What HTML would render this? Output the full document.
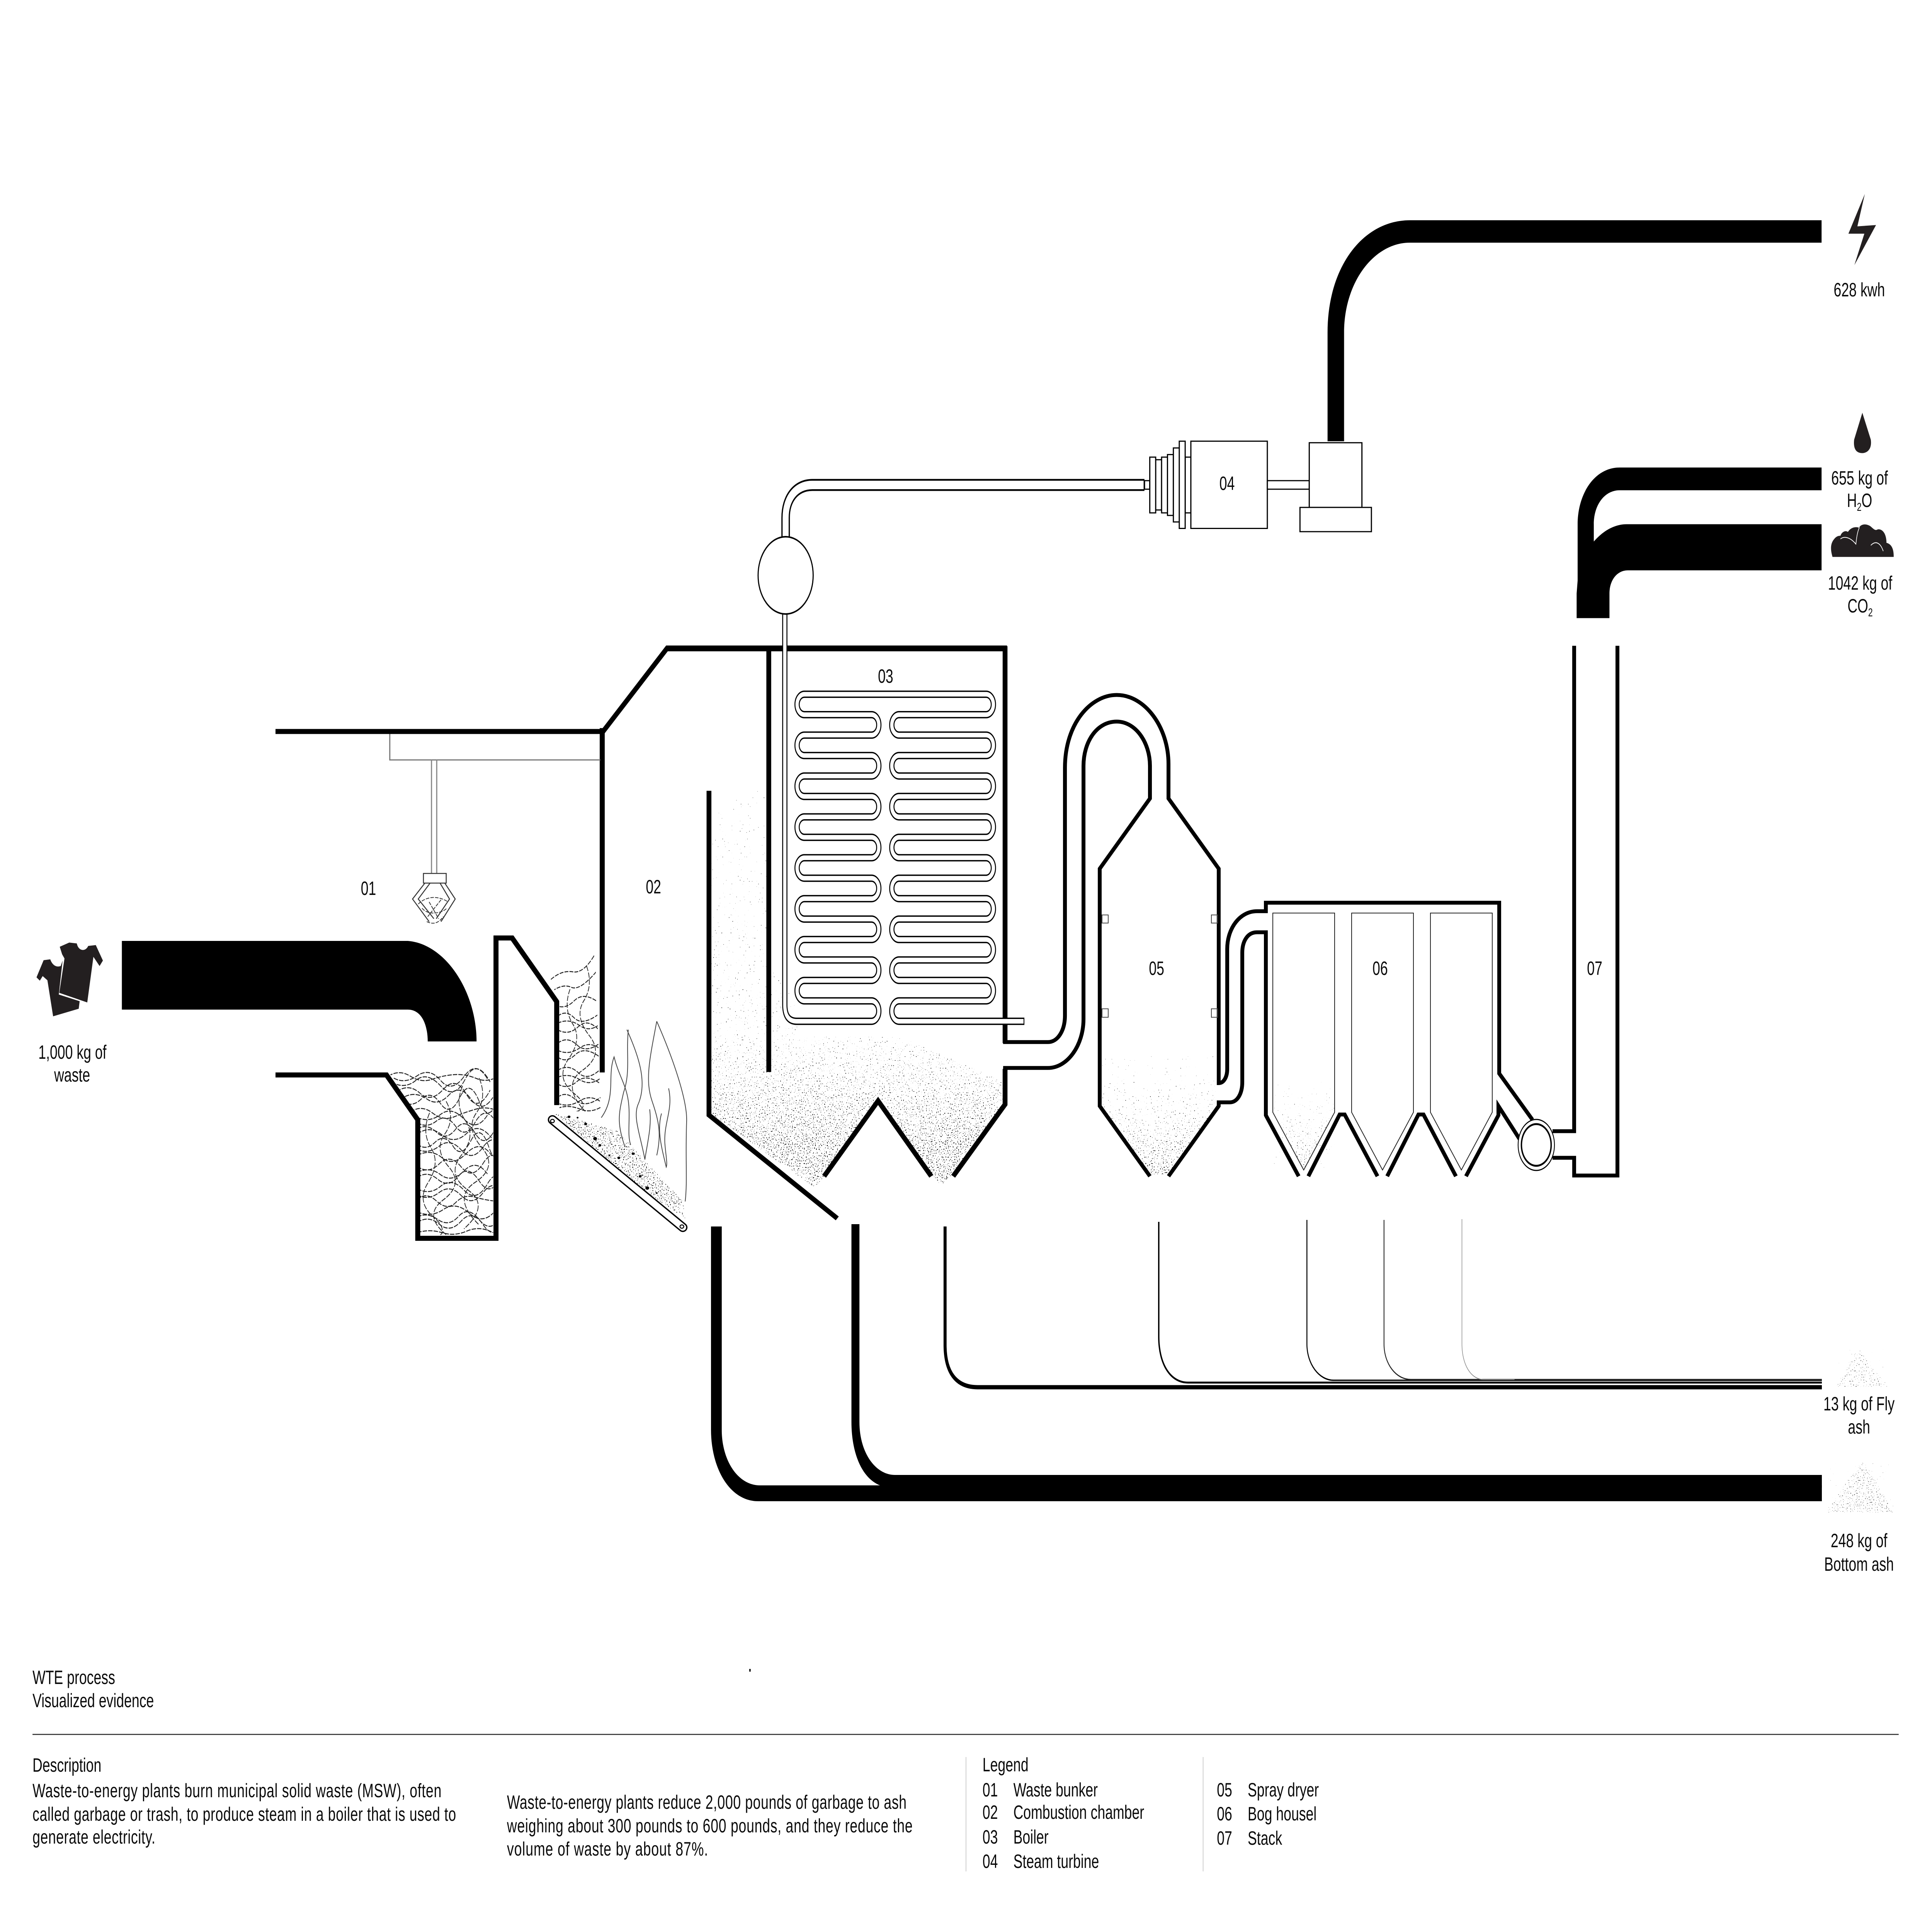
<!DOCTYPE html>
<html><head><meta charset="utf-8"><title>WTE process</title>
<style>
html,body{margin:0;padding:0;background:#fff;overflow:hidden;width:100vw;height:100vh}
svg{display:block;width:100vw;height:100vh}
.z *{vector-effect:non-scaling-stroke}
text{font-family:"Liberation Sans",sans-serif;font-size:50px;fill:#0a0a0a}
.m{text-anchor:middle}
</style></head><body>
<svg xmlns="http://www.w3.org/2000/svg" viewBox="0 0 7016 4961" preserveAspectRatio="none">
<defs>
<filter id="stip" x="0" y="0" width="1" height="1" color-interpolation-filters="sRGB">
<feTurbulence type="fractalNoise" baseFrequency=".3" numOctaves="1" seed="7" result="n"/>
<feComposite in="n" in2="SourceAlpha" operator="arithmetic" k1="0" k2="1" k3=".13" k4="0"/>
<feColorMatrix values="0 0 0 0 0  0 0 0 0 0  0 0 0 0 0  0 0 0 40 -31"/>
</filter>
<linearGradient id="gb" x1="0" y1="0" x2="0" y2="1"><stop offset="0" stop-color="#000" stop-opacity=".05"/><stop offset=".6" stop-color="#000" stop-opacity=".3"/><stop offset=".9" stop-color="#000" stop-opacity="1"/></linearGradient>
<linearGradient id="gd" x1="0" y1="0" x2="0" y2="1"><stop offset="0" stop-color="#000" stop-opacity="0"/><stop offset="1" stop-color="#000" stop-opacity=".9"/></linearGradient>
<clipPath id="c1"><polygon points="1412,2775 1791,2757 1791,3196 1524,3196 1524,2898"/></clipPath>
<clipPath id="c2"><polygon points="1998,2529 2161,2459 2178,2806 2183,2876 2032,2876 2028,2594"/></clipPath>
<clipPath id="cb"><polygon points="2586,2097 2777,2040 2797,2510 2883,2568 2902,2682 3265,2682 3638,2797 3643,2855 3461,3038 3418,3067 3385,3044 3189,2849 2993,3044 2959,3073 2581,2883"/></clipPath>
<clipPath id="cd"><polygon points="4003,2733 4417,2733 4417,2862 4243,3039 4176,3039 4003,2862"/></clipPath>
<clipPath id="cf"><polygon points="2015,2882 2239,2925 2480,3109 2488,3153 2239,3033"/></clipPath>
</defs>
<rect width="7016" height="4961" fill="#fff"/>

<!-- stipple -->
<g clip-path="url(#cb)"><rect x="2581" y="2040" width="1062" height="1033" fill="url(#gb)" filter="url(#stip)"/></g>
<g clip-path="url(#cd)"><rect x="4003" y="2733" width="414" height="306" fill="url(#gd)" filter="url(#stip)"/></g>
<g clip-path="url(#cf)"><rect x="2015" y="2882" width="473" height="271" fill="#000" filter="url(#stip)"/></g>
<polygon points="4622,2800 4847,2800 4847,2878 4734,3028 4622,2878" fill="url(#gd)" opacity=".7" filter="url(#stip)"/>
<g opacity=".6">
<polygon points="6750,3486 6790,3530 6860,3589 6669,3589 6710,3530" fill="#000" fill-opacity=".7" filter="url(#stip)"/>
<polygon points="6765,3780 6810,3830 6875,3914 6633,3914 6700,3840" fill="#000" fill-opacity=".8" filter="url(#stip)"/>
</g>

<!-- waste scribbles -->
<g clip-path="url(#c1)" fill="none" stroke="#222" stroke-width="2.5" stroke-dasharray="16 4">
<path d="M1410 2785q40-18 80 0t80 8t80-12t80 10t80-6"/>
<path d="M1420 2800q50 20 90-4t90 14t90-18t90 8"/>
<path d="M1440 2825q45-22 85 4t85-10t85 14t85-12"/>
<path d="M1460 2850q35 18 70-6t70 12t70-16t70 10t70-6"/>
<path d="M1490 2878q40-20 80 2t80 10t80-20t80 6"/>
<path d="M1515 2905q35 16 70-4t70 14t70-10t70-8"/>
<path d="M1515 2935q45-24 90 2t90-4t90 12"/>
<path d="M1515 2960q30 20 65-4t65 10t65-14t65 16t65-8"/>
<path d="M1515 2990q50-18 90 6t90-12t90 6"/>
<path d="M1515 3018q40 22 80-6t80 8t80-10t80 12"/>
<path d="M1515 3048q35-20 75 4t75-8t75 12t75-6"/>
<path d="M1515 3076q45 18 85-6t85 10t85-16t85 8"/>
<path d="M1515 3106q30-24 70 2t70 4t70-14t70 10t70-2"/>
<path d="M1515 3136q50 16 95-6t95 10t95-8"/>
<path d="M1515 3164q40-20 80 4t80-8t80 10t80-6"/>
<path d="M1515 3190q45-10 90 0t90-4t90 2"/>
<path d="M1430 2790q40 16 85-6t85 12t85-10t85 6"/>
<path d="M1470 2838q40-14 80 6t80-10t80 10t80-4"/>
<path d="M1515 2892q45 14 85-8t85 12t85-10"/>
<path d="M1515 2922q35-16 70 8t70-8t70 10t70-6"/>
<path d="M1515 2974q40 14 80-8t80 10t80-8t80 6"/>
<path d="M1515 3034q45-16 85 6t85-10t85 8"/>
<path d="M1515 3092q40 16 80-6t80 8t80-8t80 4"/>
<path d="M1515 3150q35-14 75 6t75-8t75 8t75-2"/>
<path d="M1560 2880q-30 50 5 90t-10 90t20 90t-5 60"/>
<path d="M1620 2850q35 45-5 85t15 85t-20 85t10 90"/>
<path d="M1680 2810q-30 50 10 90t-15 90t25 90t-15 100"/>
<path d="M1740 2790q30 50-10 90t20 90t-25 90t15 110"/>
</g>
<g clip-path="url(#c2)" fill="none" stroke="#222" stroke-width="2.5" stroke-dasharray="14 4">
<path d="M2000 2535q40-25 80-20t80-45"/>
<path d="M2005 2565q40-20 70-10t90-40"/>
<path d="M2015 2600q35 15 70-10t90 5"/>
<path d="M2025 2630q30-18 60 4t90-10"/>
<path d="M2025 2665q40 16 75-8t80 12"/>
<path d="M2025 2700q35-20 70 4t90-8"/>
<path d="M2025 2735q30 18 65-6t95 10"/>
<path d="M2025 2770q40-18 75 6t85-12"/>
<path d="M2025 2805q35 16 70-6t90 8"/>
<path d="M2025 2840q30-18 65 6t95-8"/>
<path d="M2025 2868q40-10 80 2t80-6"/>
<path d="M2025 2648q40-14 80 6t80-8"/>
<path d="M2025 2718q40 14 80-6t80 6"/>
<path d="M2025 2788q40-12 80 6t80-6"/>
<path d="M2025 2855q40 12 80-6t80 4"/>
<path d="M2070 2560q-25 50 10 90t-15 90t20 90t-10 50"/>
<path d="M2130 2500q25 50-10 90t20 90t-25 90t15 110"/>
</g>

<!-- bunker, crane, hopper, grate, flames (zoom 1 space) -->
<g class="z" transform="translate(0,1700) scale(1.722,1.084)" fill="none" stroke="#000">
<path d="M581 178H1272" stroke-width="13"/>
<path d="M1270 170V992" stroke-width="13"/>
<path d="M581 998H815L881 1105V1388H1046V671H1080L1174 823V1070" stroke-width="13"/>
<path d="M257 678H860C940 685 1005 800 1005 918H902C902 880 890 842 860 842H257Z" fill="#000" stroke="none"/>
<path d="M822 184V246H1266" stroke="#777" stroke-width="3"/>
<path d="M910 246V517M921 246V517" stroke="#888" stroke-width="3"/>
<g stroke="#333" stroke-width="2.5">
<path d="M893 517H941V540H893Z"/>
<path d="M896 540L870 578L905 632M907 540L882 578L915 625"/>
<path d="M938 540L960 578L930 632M928 540L948 578L920 625"/>
<path d="M882 590C900 570 925 570 945 585M890 600C905 620 935 610 942 600M900 632C915 640 925 635 935 620M905 585L925 625M930 580L902 620" stroke-dasharray="9 3" stroke-width="2"/>
</g>
<!-- grate -->
<path d="M1165 1105L1440 1362" stroke="#000" stroke-width="24" stroke-linecap="round"/>
<path d="M1165 1105L1440 1362" stroke="#fff" stroke-width="17" stroke-linecap="round"/>
<circle cx="1165" cy="1108" r="4" stroke-width="2.5"/><circle cx="1438" cy="1360" r="4" stroke-width="2.5"/>
<!-- flames -->
<g stroke="#444" stroke-width="2">
<path d="M1268 1100C1300 1050 1280 1000 1295 955C1305 1000 1320 1020 1325 1060C1330 1100 1322 1140 1330 1165"/>
<path d="M1322 890C1350 960 1365 1020 1345 1070C1335 1100 1350 1140 1360 1200C1365 1160 1375 1120 1370 1080"/>
<path d="M1385 870C1420 960 1450 1060 1448 1110C1445 1200 1450 1250 1445 1300"/>
<path d="M1385 870C1370 960 1360 1010 1375 1060C1390 1110 1395 1140 1385 1190"/>
<path d="M1410 1030C1420 1080 1400 1110 1402 1160C1404 1190 1408 1210 1405 1218C1395 1170 1385 1130 1395 1090"/>
<path d="M1325 890C1320 950 1330 990 1315 1040C1305 1090 1300 1110 1318 1170"/>
</g>
<g fill="#000" stroke="none">
<circle cx="1200" cy="1098" r="3"/><circle cx="1218" cy="1100" r="2"/><circle cx="1235" cy="1115" r="3"/><circle cx="1255" cy="1150" r="4"/><circle cx="1265" cy="1166" r="3"/><circle cx="1305" cy="1196" r="3"/><circle cx="1335" cy="1186" r="3"/><circle cx="1350" cy="1240" r="3"/><circle cx="1365" cy="1268" r="4"/><circle cx="1385" cy="1280" r="2"/><circle cx="1285" cy="1190" r="2"/>
</g>
<!-- shirts -->
<g fill="#231f20" stroke="none">
<path d="M77 765L92 724L106 722C110 735 118 742 128 738L132 725L124 806L168 822L166 840L112 858L100 772L90 762L84 773Z"/>
<path d="M126 692L146 682L162 684C165 702 180 705 186 690L202 688L217 725L210 738L197 716L184 825L125 802L136 720L131 710Z"/>
</g>
</g>

<!-- top wall of combustion chamber -->
<path d="M2181 1893L2190 1893L2422 1678H3657" fill="none" stroke="#000" stroke-width="15"/>

<!-- boiler (zoom 2 space) -->
<g class="z" transform="translate(2500,1500) scale(.9566,1.148)" fill="none" stroke="#000" stroke-width="12.5">
<path d="M1202 150V1045"/>
<path d="M78 476V1207L565 1440"/>
<path d="M305 155V1110"/>
<path d="M515 1345L720 1175L922 1345"/>
<path d="M1202 1103V1183L1005 1345"/>
</g>

<!-- steam pipe upper -->
<path d="M2853 1395V1340C2853 1290 2890 1255 2950 1255H4156" fill="none" stroke="#000" stroke-width="31"/>
<path d="M2853 1395V1340C2853 1290 2890 1255 2950 1255H4153" fill="none" stroke="#fff" stroke-width="22"/>
<!-- serpentine -->
<path d="M2850 1585V2600Q2850 2643 2893 2643H3165a26.45 26.45 0 0 0 0-52.9H2921a26.45 26.45 0 0 1 0-52.9H3165a26.45 26.45 0 0 0 0-52.9H2921a26.45 26.45 0 0 1 0-52.9H3165a26.45 26.45 0 0 0 0-52.9H2921a26.45 26.45 0 0 1 0-52.9H3165a26.45 26.45 0 0 0 0-52.9H2921a26.45 26.45 0 0 1 0-52.9H3165a26.45 26.45 0 0 0 0-52.9H2921a26.45 26.45 0 0 1 0-52.9H3165a26.45 26.45 0 0 0 0-52.9H2921a26.45 26.45 0 0 1 0-52.9H3165a26.45 26.45 0 0 0 0-52.9H2921a26.45 26.45 0 0 1 0-52.9H3165a26.45 26.45 0 0 0 0-52.9H2921a26.45 26.45 0 0 1 0-52.9H3581a26.45 26.45 0 0 1 0 52.9H3265a26.45 26.45 0 0 0 0 52.9H3581a26.45 26.45 0 0 1 0 52.9H3265a26.45 26.45 0 0 0 0 52.9H3581a26.45 26.45 0 0 1 0 52.9H3265a26.45 26.45 0 0 0 0 52.9H3581a26.45 26.45 0 0 1 0 52.9H3265a26.45 26.45 0 0 0 0 52.9H3581a26.45 26.45 0 0 1 0 52.9H3265a26.45 26.45 0 0 0 0 52.9H3581a26.45 26.45 0 0 1 0 52.9H3265a26.45 26.45 0 0 0 0 52.9H3581a26.45 26.45 0 0 1 0 52.9H3265a26.45 26.45 0 0 0 0 52.9H3581a26.45 26.45 0 0 1 0 52.9H3265a26.45 26.45 0 0 0 0 52.9H3720" fill="none" stroke="#000" stroke-width="19"/>
<path d="M2850 1585V2600Q2850 2643 2893 2643H3165a26.45 26.45 0 0 0 0-52.9H2921a26.45 26.45 0 0 1 0-52.9H3165a26.45 26.45 0 0 0 0-52.9H2921a26.45 26.45 0 0 1 0-52.9H3165a26.45 26.45 0 0 0 0-52.9H2921a26.45 26.45 0 0 1 0-52.9H3165a26.45 26.45 0 0 0 0-52.9H2921a26.45 26.45 0 0 1 0-52.9H3165a26.45 26.45 0 0 0 0-52.9H2921a26.45 26.45 0 0 1 0-52.9H3165a26.45 26.45 0 0 0 0-52.9H2921a26.45 26.45 0 0 1 0-52.9H3165a26.45 26.45 0 0 0 0-52.9H2921a26.45 26.45 0 0 1 0-52.9H3165a26.45 26.45 0 0 0 0-52.9H2921a26.45 26.45 0 0 1 0-52.9H3581a26.45 26.45 0 0 1 0 52.9H3265a26.45 26.45 0 0 0 0 52.9H3581a26.45 26.45 0 0 1 0 52.9H3265a26.45 26.45 0 0 0 0 52.9H3581a26.45 26.45 0 0 1 0 52.9H3265a26.45 26.45 0 0 0 0 52.9H3581a26.45 26.45 0 0 1 0 52.9H3265a26.45 26.45 0 0 0 0 52.9H3581a26.45 26.45 0 0 1 0 52.9H3265a26.45 26.45 0 0 0 0 52.9H3581a26.45 26.45 0 0 1 0 52.9H3265a26.45 26.45 0 0 0 0 52.9H3581a26.45 26.45 0 0 1 0 52.9H3265a26.45 26.45 0 0 0 0 52.9H3581a26.45 26.45 0 0 1 0 52.9H3265a26.45 26.45 0 0 0 0 52.9H3717" fill="none" stroke="#fff" stroke-width="12"/>
<circle cx="2853" cy="1489" r="100" fill="#fff" stroke="#000" stroke-width="4"/>

<!-- spray dryer, bag house, stack (zoom 3 space) -->
<g class="z" transform="translate(3800,1700) scale(1.403,.9566)" fill="none" stroke="#000" stroke-width="10">
<path d="M-112 1042H4C30 1042 48 1010 48 970V300C48 180 115 103 182 103C255 103 316 190 316 290V383L446 573V1153C460 1153 468 1135 468 1115V790C468 735 500 688 545 688H568V665H1172V1127L1258 1252"/>
<path d="M-112 1112H4C55 1112 96 1050 96 980V295C96 230 130 175 182 175C230 175 268 230 268 295V383L138 573V1215L268 1405"/>
<path d="M316 1405L446 1215V1205H475C495 1205 507 1180 507 1150V800C507 770 520 745 545 745H568V1240L653 1405"/>
<path d="M678 1405L759 1238H772L857 1405"/>
<path d="M882 1405L963 1238H976L1060 1405"/>
<path d="M1086 1405L1170 1240V1215L1225 1305"/>
<path d="M1310 1283H1366V-30"/>
<path d="M1310 1355H1366V1403H1478V-30"/>
<g stroke-width="2" stroke="#222">
<path d="M586 693H746V1232L666 1388L586 1232Z"/>
<path d="M790 693H950V1232L870 1388L790 1232Z"/>
<path d="M994 693H1154V1232L1074 1388L994 1232Z"/>
<path d="M144 698H160V720H144ZM144 952H160V975H144ZM427 698H443V720H427ZM427 952H443V975H427Z" stroke="#444"/>
</g>
</g>
<circle cx="5579" cy="2963" r="66" fill="#fff" stroke="#000" stroke-width="3"/>
<circle cx="5579" cy="2963" r="54" fill="#fff" stroke="#000" stroke-width="5"/>

<!-- turbine (zoom 5 space) -->
<path d="M4821 1142V860C4821 690 4950 570 5120 570H6615V628H5120C4990 628 4881 730 4881 860V1142Z" fill="#000"/>
<g class="z" transform="translate(3900,1050) scale(.765,.336)" fill="#fff" stroke="#000" stroke-width="3">
<rect x="335" y="577" width="25" height="66"/>
<rect x="528" y="396" width="27" height="429"/>
<rect x="388" y="416" width="28" height="387"/>
<rect x="360" y="396" width="28" height="429"/>
<rect x="416" y="396" width="28" height="429"/>
<rect x="444" y="376" width="28" height="469"/>
<rect x="472" y="325" width="28" height="570"/>
<rect x="500" y="273" width="28" height="672"/>
<rect x="555" y="273" width="363" height="672"/>
<rect x="918" y="577" width="199" height="66"/>
<rect x="1117" y="285" width="250" height="498"/>
<rect x="1073" y="783" width="339" height="187"/>
</g>

<!-- exhaust pipes and icons (zoom 4 space) -->
<g transform="translate(5600,400) scale(.903,.829)" fill="#000">
<path d="M1124 977H312C210 977 143 1060 143 1154V1330L139 1370V1447H271V1370C271 1330 300 1298 345 1298H1124V1154H340C290 1154 245 1175 208 1208V1154C208 1095 250 1048 312 1048H1124Z"/>
<g fill="#231f20">
<polygon points="1298,123 1232,247 1296,247 1256,345 1343,220 1268,224"/>
<path d="M1288 806L1322 890C1328 925 1300 932 1288 932C1270 932 1250 925 1255 890Z"/>
<path d="M1168 1256C1160 1235 1158 1215 1175 1200C1185 1190 1195 1190 1200 1190C1205 1178 1220 1172 1230 1178C1240 1165 1260 1160 1275 1165C1280 1155 1300 1150 1320 1160C1335 1170 1340 1175 1350 1170C1370 1168 1385 1185 1385 1212C1400 1215 1415 1225 1414 1256Z"/>
</g>
<path d="M1200 1200C1215 1190 1240 1195 1262 1216C1265 1195 1268 1178 1276 1164M1322 1220C1340 1205 1360 1210 1372 1238" fill="none" stroke="#fff" stroke-width="2.5"/>
</g>

<!-- residue lines -->
<g fill="none">
<path d="M3432 3174V3480C3432 3550 3470 3590 3550 3590H6616" stroke="#000" stroke-width="11"/>
<path d="M4208 3162V3459C4208 3530 4250 3578 4314 3578H6616" stroke="#000" stroke-width="5"/>
<path d="M4746 3157V3478C4746 3530 4790 3572 4843 3572H6616" stroke="#000" stroke-width="3.5"/>
<path d="M5026 3157V3478C5026 3530 5070 3570 5123 3570H6616" stroke="#222" stroke-width="3"/>
<path d="M5309 3155V3478C5309 3530 5340 3570 5388 3570H5500" stroke="#888" stroke-width="2"/>
</g>
<path d="M2582 3174H2621V3700C2621 3780 2680 3844 2760 3844H6616V3885H2753C2650 3885 2582 3800 2582 3700Z" fill="#000"/>
<path d="M3092 3168H3121V3680C3121 3760 3180 3817 3250 3817H6616V3850H3240C3140 3850 3092 3770 3092 3680Z" fill="#000"/>

<!-- diagram labels -->
<text class="m" x="1338" y="2316">01</text>
<text class="m" x="2373" y="2312">02</text>
<text class="m" x="3216" y="1767">03</text>
<text class="m" x="4456" y="1268">04</text>
<text class="m" x="4200" y="2523">05</text>
<text class="m" x="5012" y="2523">06</text>
<text class="m" x="5791" y="2523">07</text>
<text class="m" x="263" y="2740">1,000 kg of</text>
<text class="m" x="262" y="2799">waste</text>
<text class="m" x="6752" y="767">628 kwh</text>
<text class="m" x="6753" y="1254">655 kg of</text>
<text class="m" x="6753" y="1312">H<tspan dy="10" style="font-size:30px">2</tspan><tspan dy="-10">O</tspan></text>
<text class="m" x="6755" y="1526">1042 kg of</text>
<text class="m" x="6755" y="1585">CO<tspan dy="10" style="font-size:30px">2</tspan></text>
<text class="m" x="6751" y="3650">13 kg of Fly</text>
<text class="m" x="6751" y="3710">ash</text>
<text class="m" x="6751" y="4004">248 kg of</text>
<text class="m" x="6751" y="4065">Bottom ash</text>

<!-- footer -->
<rect x="2721" y="4319" width="5" height="7" fill="#000"/>
<text x="118" y="4358">WTE process</text>
<text x="118" y="4418">Visualized evidence</text>
<rect x="118" y="4487" width="6777" height="3" fill="#444"/>
<text x="118" y="4585">Description</text>
<text x="118" y="4651" textLength="1485">Waste-to-energy plants burn municipal solid waste (MSW), often</text>
<text x="118" y="4712" textLength="1538">called garbage or trash, to produce steam in a boiler that is used to</text>
<text x="118" y="4771" textLength="446">generate electricity.</text>
<text x="1841" y="4681" textLength="1451">Waste-to-energy plants reduce 2,000 pounds of garbage to ash</text>
<text x="1841" y="4742" textLength="1473">weighing about 300 pounds to 600 pounds, and they reduce the</text>
<text x="1841" y="4802" textLength="730">volume of waste by about 87%.</text>
<rect x="3507" y="4547" width="2" height="296" fill="#bbb"/>
<rect x="4368" y="4547" width="2" height="296" fill="#bbb"/>
<text x="3568" y="4584">Legend</text>
<text x="3568" y="4649">01</text><text x="3680" y="4649">Waste bunker</text>
<text x="3568" y="4707">02</text><text x="3680" y="4707">Combustion chamber</text>
<text x="3568" y="4771">03</text><text x="3680" y="4771">Boiler</text>
<text x="3568" y="4834">04</text><text x="3680" y="4834">Steam turbine</text>
<text x="4419" y="4649">05</text><text x="4531" y="4649">Spray dryer</text>
<text x="4419" y="4711">06</text><text x="4531" y="4711">Bog housel</text>
<text x="4419" y="4774">07</text><text x="4531" y="4774">Stack</text>
</svg>
</body></html>
